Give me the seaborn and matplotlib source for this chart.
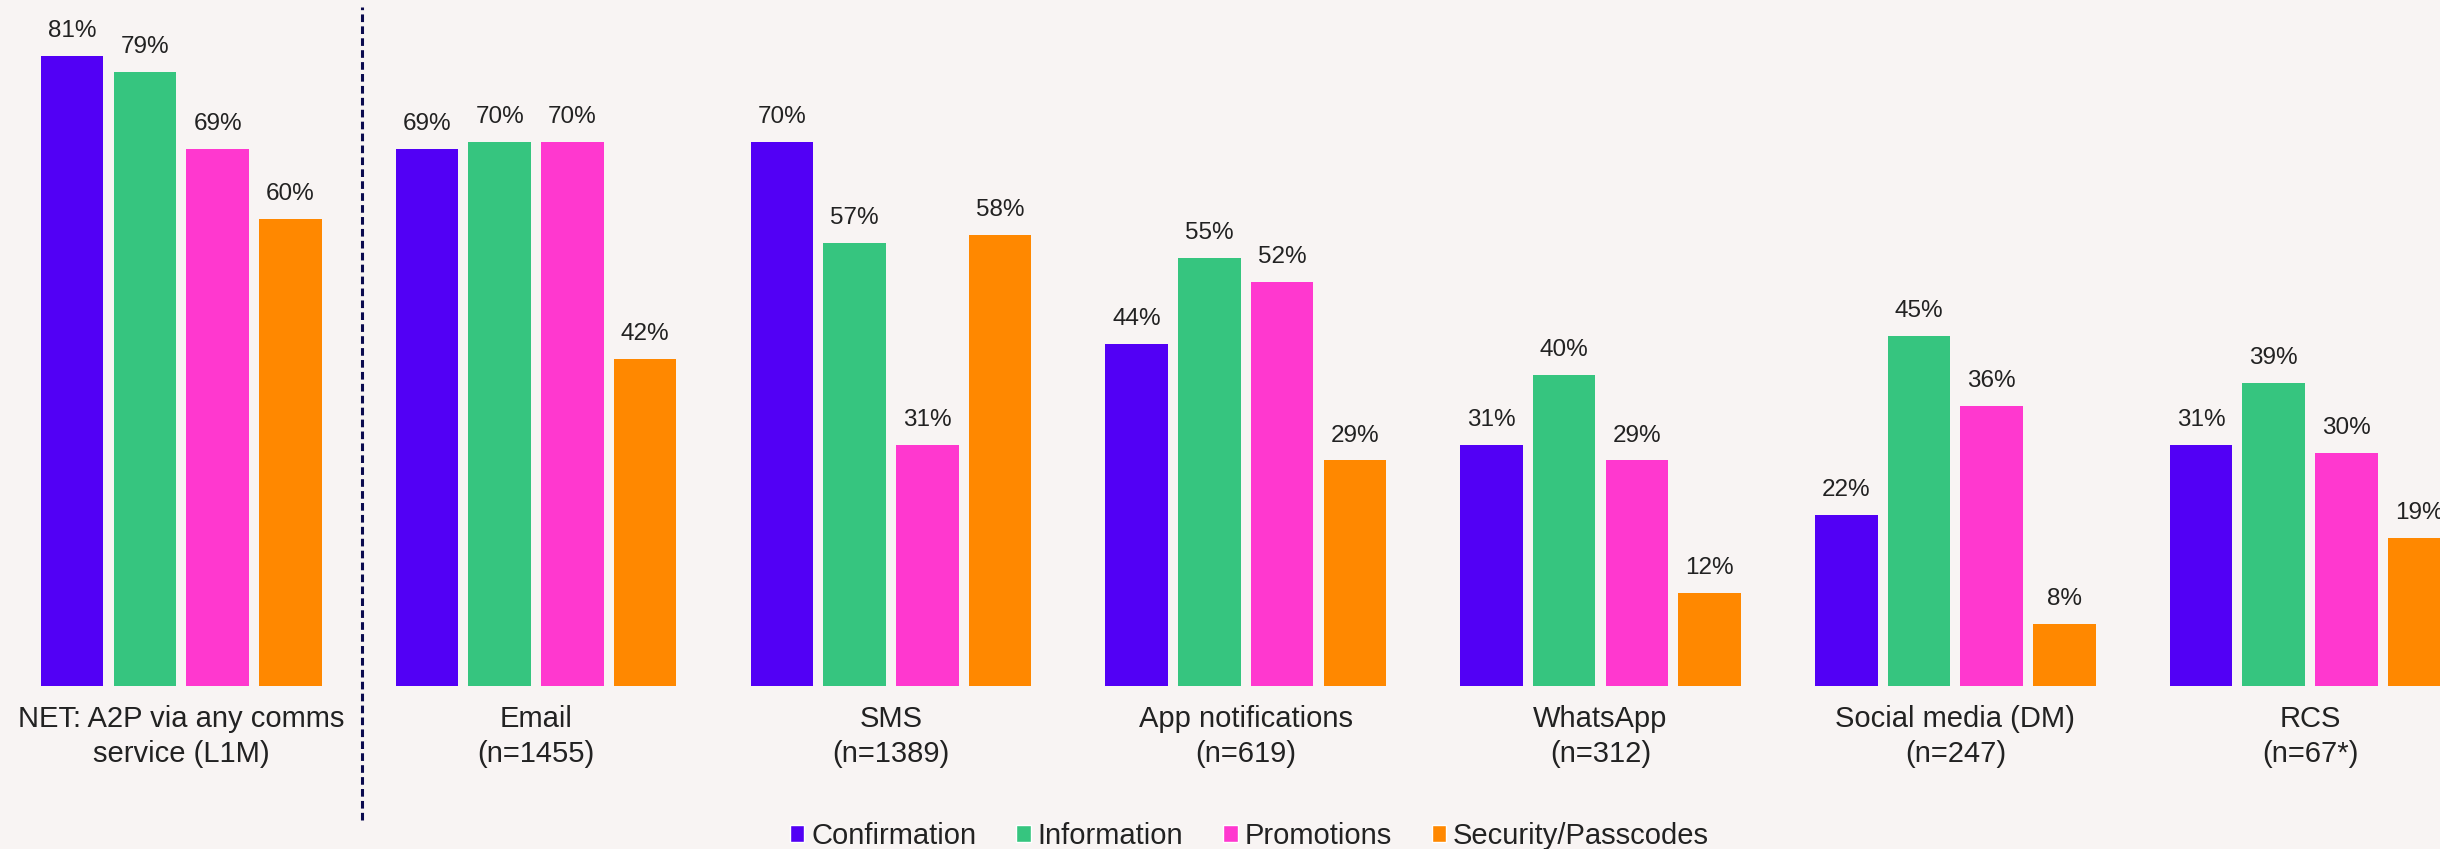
import matplotlib
matplotlib.use("Agg")
import matplotlib.pyplot as plt
import seaborn as sns
import pandas as pd

# Channels and sample sizes
channels = [
    "NET: A2P via any comms\nservice (L1M)",
    "Email\n(n=1455)",
    "SMS\n(n=1389)",
    "App notifications\n(n=619)",
    "WhatsApp\n(n=312)",
    "Social media (DM)\n(n=247)",
    "RCS\n(n=67*)",
]
message_types = ["Confirmation", "Information", "Promotions", "Security/Passcodes"]

confirmation = [81, 69, 70, 44, 31, 22, 31]
information = [79, 70, 57, 55, 40, 45, 39]
promotions = [69, 70, 31, 52, 29, 36, 30]
security = [60, 42, 58, 29, 12, 8, 19]

palette = ["#5200f5", "#36c57f", "#ff38cf", "#ff8800"]
bg = "#f8f4f3"

rows = []
for series, vals in zip(message_types, [confirmation, information, promotions, security]):
    for ch, v in zip(channels, vals):
        rows.append({"channel": ch, "type": series, "pct": v})
df = pd.DataFrame(rows)

sns.set_theme(style="white")
plt.rcParams["font.family"] = ["Liberation Sans", "DejaVu Sans"]

fig = plt.figure(figsize=(24.4, 8.49), dpi=100, facecolor=bg)
ax = fig.add_axes([0.0, 0.192, 1.0, 0.808])
ax.set_facecolor(bg)

sns.barplot(
    data=df, x="channel", y="pct", hue="type", order=channels,
    hue_order=message_types, palette=palette, width=0.82, gap=0.14,
    saturation=1, ax=ax, legend=True,
)

for container in ax.containers:
    for bar in container:
        bar.set_edgecolor("none")
    ax.bar_label(container, labels=[f"{int(v)}%" for v in container.datavalues],
                 padding=10, fontsize=17.5, color="#222222")

ax.set_xlim(-0.511, 6.366)
ax.set_ylim(0, 88.2)
ax.set_xlabel("")
ax.set_ylabel("")
ax.set_yticks([])
ax.tick_params(axis="x", length=0, pad=14, labelsize=21, labelcolor="#222222")
for lbl in ax.get_xticklabels():
    lbl.set_linespacing(1.3)
for s in ax.spines.values():
    s.set_visible(False)

# Divider between the overall figure and individual channels
ax.axvline(0.51, ymin=-0.196, ymax=0.99, color="#0b0b4f", lw=2.2,
           dashes=(2.5, 1.4), clip_on=False)

leg = ax.legend(
    loc="center", bbox_to_anchor=(0.512, 0.0155), bbox_transform=fig.transFigure,
    ncol=4, frameon=False, fontsize=21, handlelength=0.5, handleheight=0.5,
    handletextpad=0.23, columnspacing=1.37, borderpad=0.2,
)
for t in leg.get_texts():
    t.set_color("#222222")

fig.savefig("out.png", dpi=100, facecolor=bg)
